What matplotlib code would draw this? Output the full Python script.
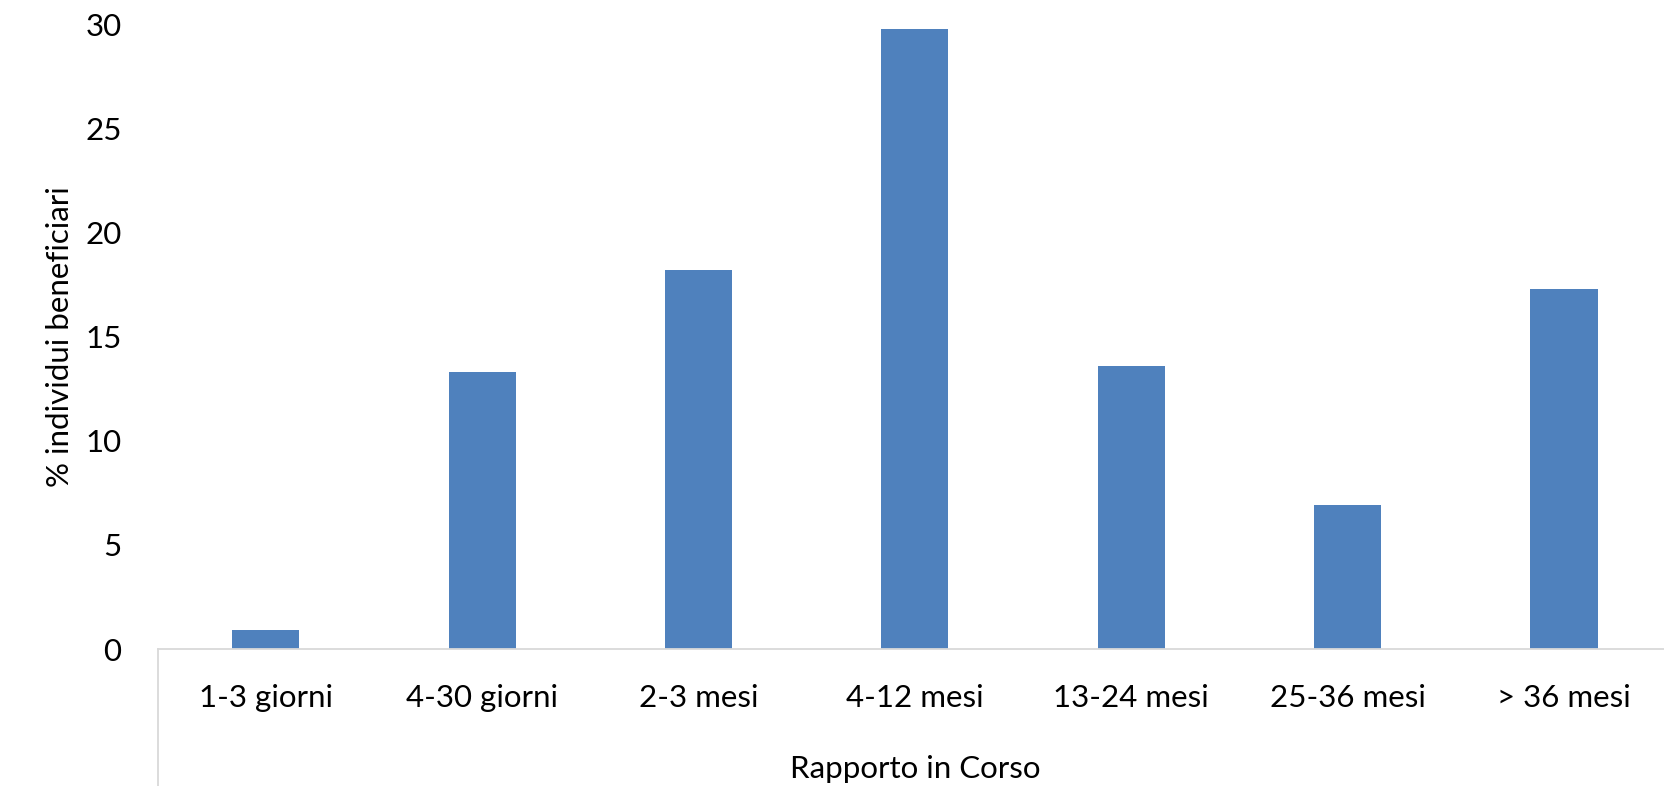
import matplotlib.pyplot as plt
from matplotlib.lines import Line2D

categories = ["1-3 giorni", "4-30 giorni", "2-3 mesi", "4-12 mesi",
              "13-24 mesi", "25-36 mesi", "> 36 mesi"]
values = [0.9, 13.3, 18.2, 29.8, 13.6, 6.9, 17.3]
y_ticks = [0, 5, 10, 15, 20, 25, 30]

plt.rcParams['font.family'] = ['Lato', 'DejaVu Sans']

fig = plt.figure(figsize=(16.65, 7.86), dpi=100)
ax = fig.add_axes([0.0947, 0.1743, 0.9096, 0.7939])

x = range(len(categories))
ax.bar(x, values, width=0.31, color="#4F81BD", zorder=2)

ax.set_xlim(-0.5, len(categories) - 0.5)
ax.set_ylim(0, 30)
ax.set_yticks(y_ticks)
ax.set_xticks(list(x))
ax.set_xticklabels(categories)

for side in ["top", "right", "left"]:
    ax.spines[side].set_visible(False)
ax.spines["bottom"].set_color("#D9D9D9")
ax.spines["bottom"].set_linewidth(1.3)

# vertical line below the category axis, like the Excel box
ax.add_line(Line2D([0, 0], [0, -0.3], transform=ax.transAxes,
                   color="#D9D9D9", linewidth=1.3, clip_on=False))

ax.tick_params(axis="both", length=0, labelsize=22.5, colors="black")
ax.tick_params(axis="y", pad=26)
ax.tick_params(axis="x", pad=25)

ax.set_ylabel("% individui beneficiari", fontsize=22.5, labelpad=8)
ax.set_xlabel("Rapporto in Corso", fontsize=22.5, labelpad=31)

fig.savefig("out.png", dpi=100)
